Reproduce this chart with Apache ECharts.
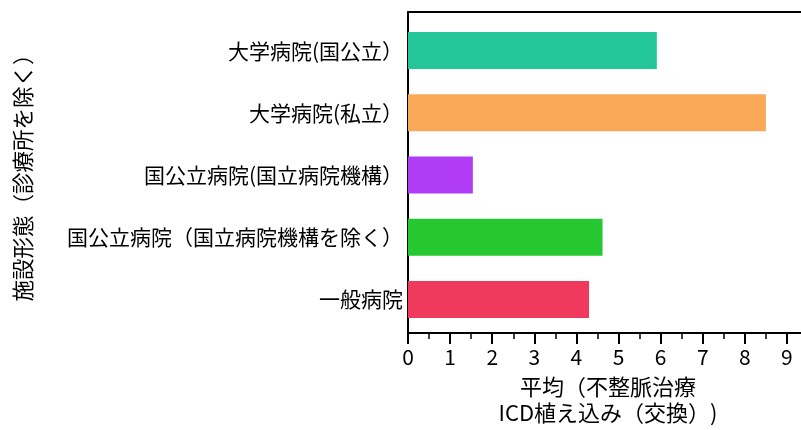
<!DOCTYPE html>
<html>
<head>
<meta charset="utf-8">
<script src="https://cdn.jsdelivr.net/npm/echarts@6/dist/echarts.min.js"></script>
<style>
html,body{margin:0;padding:0;background:#fff;}
#chart{width:801px;height:430px;}
</style>
</head>
<body>
<div id="chart"></div>
<script>
const categories = ['大学病院(国公立）', '大学病院(私立）', '国公立病院(国立病院機構）', '国公立病院（国立病院機構を除く）', '一般病院'];
const values = [5.91, 8.50, 1.54, 4.62, 4.30];
const colors = ['#23C699', '#F8A857', '#B03CF6', '#25C831', '#EF3A5E'];
const xTicks = [0, 1, 2, 3, 4, 5, 6, 7, 8, 9];
const xName = '平均（不整脈治療\nICD植え込み（交換）)';
const yName = '施設形態（診療所を除く）';

const FONT = '"Noto Sans CJK JP", sans-serif';
const chart = echarts.init(document.getElementById('chart'), null, {renderer: 'canvas'});
const lineStyle = {color: '#000', width: 2};
chart.setOption({
  animation: false,
  backgroundColor: '#fff',
  textStyle: {fontFamily: FONT},
  grid: [
    {left: 408, top: 12, width: 400, height: 321, containLabel: false, outerBoundsMode: 'none'},
    {left: 408, top: 19.4, width: 400, height: 311.2, containLabel: false, outerBoundsMode: 'none'}
  ],
  xAxis: [
    {
      gridIndex: 0, type: 'value', position: 'bottom', min: 0, max: 9.5, interval: 1,
      axisLine: {show: true, lineStyle: lineStyle},
      axisTick: {show: true, inside: false, length: 11, lineStyle: {color: '#000', width: 2}},
      minorTick: {show: true, splitNumber: 2, length: 6, lineStyle: {color: '#000', width: 1.5}},
      splitLine: {show: false},
      axisLabel: {
        color: '#000', fontSize: 21, margin: 14, fontFamily: FONT,
        formatter: function (v) { return xTicks.indexOf(v) >= 0 ? String(v) : ''; }
      },
      name: xName, nameLocation: 'middle', nameGap: 41,
      nameTextStyle: {color: '#000', fontSize: 22, lineHeight: 26, fontFamily: FONT}
    },
    {
      gridIndex: 0, type: 'value', position: 'top', min: 0, max: 9.5,
      axisLine: {show: true, lineStyle: lineStyle},
      axisTick: {show: false}, axisLabel: {show: false}, splitLine: {show: false}
    },
    {
      gridIndex: 1, type: 'value', min: 0, max: 9.5, show: false
    }
  ],
  yAxis: [
    {
      gridIndex: 0, type: 'value', min: 0, max: 1,
      axisLine: {show: true, lineStyle: lineStyle},
      axisTick: {show: false}, axisLabel: {show: false}, splitLine: {show: false},
      name: yName, nameLocation: 'middle', nameGap: 374, nameRotate: 90,
      nameTextStyle: {color: '#000', fontSize: 21.5, fontFamily: FONT}
    },
    {
      gridIndex: 1, type: 'category', data: categories, inverse: true,
      axisLine: {show: false}, axisTick: {show: false}, splitLine: {show: false},
      axisLabel: {color: '#000', fontSize: 21, margin: 5, fontFamily: FONT}
    }
  ],
  series: [{
    type: 'bar',
    xAxisIndex: 2,
    yAxisIndex: 1,
    barWidth: 37,
    data: values.map(function (v, i) { return {value: v, itemStyle: {color: colors[i]}}; })
  }]
});
</script>
</body>
</html>
